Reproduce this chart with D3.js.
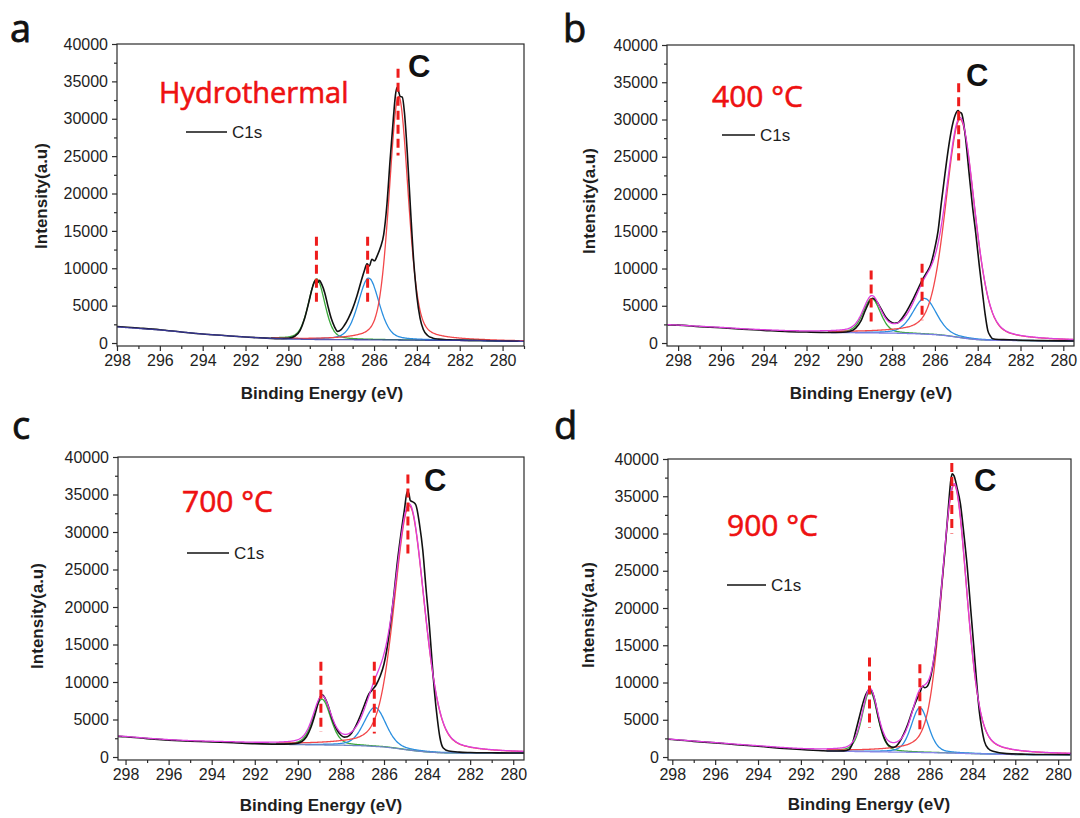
<!DOCTYPE html>
<html>
<head>
<meta charset="utf-8">
<script src="https://cdn.jsdelivr.net/npm/d3@7"></script>
<style>
  body { margin: 0; background: #fff; }
  svg text { font-family: "Liberation Sans", Arial, sans-serif; }
</style>
</head>
<body>
<svg id="chart" width="1080" height="818"></svg>
<script>
// ---------------- data ----------------
const xTickValues = [298, 296, 294, 292, 290, 288, 286, 284, 282, 280];
const xMinorValues = [299, 297, 295, 293, 291, 289, 287, 285, 283, 281, 279];
const yTickValues = [0, 5000, 10000, 15000, 20000, 25000, 30000, 35000, 40000];
const yMinorValues = [2500, 7500, 12500, 17500, 22500, 27500, 32500, 37500];
const panelLetters = ["a", "b", "c", "d"];
const sampleNames = ["Hydrothermal", "400 \u00B0C", "700 \u00B0C", "900 \u00B0C"];
const legendName = "C1s";
const peakLabel = "C";

// measured C1s spectra: [binding energy (eV), intensity (a.u.)]
const c1sHydro = [
  [298, 2200], [297, 2000], [296, 1780], [295, 1480], [294, 1200], [293, 1000], [292, 800],
  [291, 650], [290.4, 580], [290, 620], [289.7, 900], [289.45, 1700], [289.25, 3200],
  [289.05, 5400], [288.9, 7200], [288.78, 8200], [288.7, 8500], [288.62, 8100], [288.55, 8400],
  [288.45, 7900], [288.3, 6700], [288.15, 4900], [288, 3300], [287.85, 2200], [287.7, 1550],
  [287.55, 1750], [287.4, 2300], [287.2, 3300], [287, 4600], [286.8, 6300], [286.6, 8300],
  [286.45, 9700], [286.33, 10600], [286.22, 10300], [286.1, 11200], [285.98, 11000],
  [285.85, 11700], [285.7, 12800], [285.55, 14500], [285.4, 18500], [285.25, 24500],
  [285.1, 30000], [285, 33200], [284.92, 34200], [284.85, 33600], [284.78, 33000],
  [284.68, 32900], [284.58, 30800], [284.45, 25500], [284.3, 18000], [284.15, 11000],
  [284, 6200], [283.85, 3300], [283.7, 1800], [283.5, 1000], [283.25, 650], [283, 520],
  [282.5, 430], [282, 380], [281, 330], [280, 270], [279.2, 240]
];
const c1s400 = [
  [298.5, 2420], [298, 2400], [297, 2200], [296, 2050], [295, 1850], [294, 1700], [293, 1550],
  [292, 1470], [291, 1420], [290.3, 1450], [290, 1550], [289.7, 2000], [289.45, 3000],
  [289.25, 4400], [289.05, 5600], [288.92, 6000], [288.82, 5900], [288.7, 5500], [288.5, 4500],
  [288.3, 3500], [288.1, 2900], [287.9, 2650], [287.75, 2700], [287.6, 3100], [287.4, 3900],
  [287.2, 4900], [287, 6000], [286.8, 7200], [286.6, 8400], [286.4, 9400], [286.2, 10500],
  [286, 12800], [285.85, 15100], [285.7, 18800], [285.53, 22700], [285.35, 26500],
  [285.2, 29000], [285.05, 30600], [284.92, 31200], [284.85, 31000], [284.75, 30800],
  [284.6, 28300], [284.4, 22700], [284.25, 18500], [284.09, 14700], [283.93, 10500],
  [283.77, 6600], [283.65, 3800], [283.53, 1700], [283.4, 900], [283.3, 580], [283, 470],
  [282.8, 450], [282, 380], [281, 320], [280, 290], [279.45, 280]
];
const c1s700 = [
  [298.35, 2750], [298, 2700], [297, 2450], [296, 2250], [295, 2100], [294, 2000], [293, 1900],
  [292, 1780], [291, 1720], [290.3, 1750], [290, 1850], [289.8, 2100], [289.6, 2700],
  [289.4, 3900], [289.2, 5700], [289.05, 7300], [288.92, 8200], [288.85, 8250], [288.75, 7900],
  [288.6, 6900], [288.4, 5000], [288.2, 3700], [288, 2900], [287.85, 2650], [287.7, 2700],
  [287.5, 3200], [287.3, 4200], [287.1, 5500], [286.9, 7000], [286.7, 8400], [286.5, 9100],
  [286.35, 9700], [286.19, 10700], [286, 12400], [285.87, 14300], [285.7, 17800],
  [285.55, 21400], [285.4, 25500], [285.23, 29400], [285.05, 33000], [284.92, 35400],
  [284.85, 35200], [284.78, 34200], [284.65, 34000], [284.52, 33600], [284.35, 31000],
  [284.2, 27600], [284.05, 22500], [283.89, 17400], [283.77, 12800], [283.65, 8500],
  [283.52, 5000], [283.41, 2700], [283.25, 1200], [283, 800], [282.5, 650], [282, 600],
  [281, 560], [280, 530], [279.5, 530]
];
const c1s900 = [
  [298.2, 2380], [298, 2350], [297, 2100], [296, 1900], [295, 1650], [294, 1450], [293, 1200],
  [292, 1000], [291, 850], [290.3, 800], [290, 820], [289.76, 1000], [289.6, 1800],
  [289.44, 3500], [289.28, 5300], [289.12, 7100], [288.95, 8500], [288.8, 9100], [288.7, 8900],
  [288.55, 7600], [288.4, 5500], [288.2, 3300], [288, 1900], [287.85, 1450], [287.7, 1300],
  [287.55, 1450], [287.4, 2000], [287.2, 3100], [287, 4500], [286.8, 6200], [286.6, 7700],
  [286.45, 8600], [286.32, 9500], [286.22, 9300], [286.1, 9500], [285.92, 11100],
  [285.75, 14000], [285.6, 17900], [285.45, 22500], [285.28, 27800], [285.12, 33500],
  [285, 37300], [284.94, 38000], [284.85, 37700], [284.72, 36200], [284.56, 34000],
  [284.4, 30000], [284.24, 25500], [284.08, 19900], [283.92, 14300], [283.8, 10000],
  [283.68, 6200], [283.56, 3800], [283.44, 2100], [283.25, 1100], [283.04, 770],
  [282.4, 450], [281.5, 380], [280.5, 330], [279.45, 320]
];

// background anchor points: [binding energy (eV), intensity]
const bgHydro = [[298, 2150], [297, 1950], [296, 1750], [295, 1480], [294, 1200], [293, 1000],
  [292, 800], [291, 640], [290, 540], [289, 480], [288, 450], [287, 440], [286, 430],
  [285, 410], [284, 380], [283, 360], [282, 340], [281, 310], [280, 260], [279, 230]];
const bg400 = [[298.52, 2430], [298, 2370], [297, 2200], [296, 2050], [295, 1850], [294, 1700],
  [293, 1560], [292, 1470], [291, 1420], [290, 1390], [289, 1360], [288, 1330], [287, 1260],
  [286, 1130], [285.5, 1000], [285, 800], [284.5, 600], [284, 450], [283.5, 380], [283, 360],
  [282, 330], [281, 300], [280, 280], [279.5, 270]];
const bg700 = [[298.35, 2750], [298, 2700], [297, 2450], [296, 2250], [295, 2100], [294, 2000],
  [293, 1900], [292, 1780], [291, 1700], [290, 1650], [289, 1610], [288, 1580], [287, 1500],
  [286, 1340], [285.5, 1180], [285, 980], [284.5, 800], [284, 670], [283.5, 580], [283, 540],
  [282, 530], [281, 520], [280, 510], [279.5, 510]];
const bg900 = [[298.2, 2380], [298, 2340], [297, 2100], [296, 1890], [295, 1650], [294, 1440],
  [293, 1200], [292, 990], [291, 850], [290, 770], [289, 720], [288, 680], [287, 640],
  [286, 590], [285, 530], [284, 450], [283, 380], [282, 330], [281, 320], [280, 315],
  [279.4, 310]];

// fitted components (C-C/C=C, C-O, O-C=O): centre (eV), height above background, FWHM (eV)
const peakCentersHydro = [284.85, 286.25, 288.68];
const peakHeightsHydro = [32600, 8250, 8100];
const peakFwhmHydro = [1.05, 1.15, 0.9];
const peakCenters400 = [284.82, 286.48, 288.95];
const peakHeights400 = [29300, 4800, 4600];
const peakFwhm400 = [1.6, 1.3, 0.95];
const peakCenters700 = [284.82, 286.42, 288.88];
const peakHeights700 = [32600, 5200, 6100];
const peakFwhm700 = [1.65, 1.2, 0.95];
const peakCenters900 = [284.85, 286.45, 288.78];
const peakHeights900 = [36000, 6000, 8100];
const peakFwhm900 = [1.4, 0.95, 0.85];

// dashed peak markers: [energy, upper intensity, lower intensity]
const marksHydro = [[284.88, 36700, 25100], [286.3, 14200, 5300], [288.69, 14200, 5100]];
const marks400 = [[284.89, 34860, 24500], [286.6, 10640, 3040], [288.98, 9740, 2800]];
const marks700 = [[284.89, 37670, 26970], [286.45, 12700, 3120], [288.93, 12700, 3340]];
const marks900 = [[284.96, 39460, 30010], [286.45, 12460, 3240], [288.8, 13360, 3910]];

// ---------------- layout ----------------
const panels = [
  { measured: c1sHydro, bg: bgHydro, centers: peakCentersHydro, heights: peakHeightsHydro,
    fwhm: peakFwhmHydro, marks: marksHydro, fitStart: 290.8, envelope: false,
    box: { left: 117, right: 524, top: 44, bottom: 346 }, xDomain: [298, 279],
    letter: [10, 42], name: [159, 103, 29], peakC: [408, 77], legend: [186, 227, 132],
    xTitle: [322, 399], yTitle: [41, 196], bgColor: "#3b3ba6" },
  { measured: c1s400, bg: bg400, centers: peakCenters400, heights: peakHeights400,
    fwhm: peakFwhm400, marks: marks400, fitStart: 291, envelope: true,
    box: { left: 667, right: 1074, top: 45, bottom: 346 }, xDomain: [298.52, 279.5],
    letter: [563, 42], name: [712, 107, 30], peakC: [966, 86], legend: [722, 755, 135],
    xTitle: [871, 399], yTitle: [589, 201], bgColor: "#7c7ce4" },
  { measured: c1s700, bg: bg700, centers: peakCenters700, heights: peakHeights700,
    fwhm: peakFwhm700, marks: marks700, fitStart: 291, envelope: true,
    box: { left: 118, right: 524, top: 457, bottom: 760 }, xDomain: [298.35, 279.5],
    letter: [12, 439], name: [182, 512, 30], peakC: [424, 491], legend: [187, 229, 553],
    xTitle: [321, 811], yTitle: [37, 616], bgColor: "#6f86c4" },
  { measured: c1s900, bg: bg900, centers: peakCenters900, heights: peakHeights900,
    fwhm: peakFwhm900, marks: marks900, fitStart: 290.8, envelope: true,
    box: { left: 668, right: 1071, top: 459, bottom: 760 }, xDomain: [298.2, 279.4],
    letter: [554, 439], name: [727, 536, 30], peakC: [974, 491], legend: [727, 766, 585],
    xTitle: [869, 810], yTitle: [588, 615], bgColor: "#8787e6" }
];

const componentColors = ["#f2474a", "#2a8fe0", "#3aa83a"]; // C-C, C-O, O-C=O
const envelopeColor = "#dd3fdd";
const axisColor = "#2b2b2b";
const markColor = "#ee1c1c";
const textRed = "#ee1111";

// pseudo-Voigt line shape (Gaussian/Lorentzian mix)
const ETA = 0.3;
function pv(x, c, h, w) {
  const t = (x - c) / w;
  return h * ((1 - ETA) * Math.exp(-4 * Math.LN2 * t * t) + ETA / (1 + 4 * t * t));
}

const svg = d3.select("#chart");

panels.forEach((p, i) => {
  const b = p.box;
  const x = d3.scaleLinear().domain(p.xDomain).range([b.left, b.right]);
  const y = d3.scaleLinear().domain([-400, 40000]).range([b.bottom, b.top]);
  const g = svg.append("g");

  // background as piecewise-linear function through its anchors
  const bgScale = d3.scaleLinear().domain(p.bg.map(d => d[0])).range(p.bg.map(d => d[1]));

  const clipId = "clip" + i;
  svg.append("clipPath").attr("id", clipId).append("rect")
    .attr("x", b.left).attr("y", b.top).attr("width", b.right - b.left).attr("height", b.bottom - b.top);

  const plot = g.append("g").attr("clip-path", `url(#${clipId})`);
  const line = d3.line().x(d => x(d[0])).y(d => y(d[1])).curve(d3.curveMonotoneX);

  // energy grid for the fitted curves (descending energy -> increasing x)
  const fitGrid = d3.range(p.fitStart, p.xDomain[1] - 0.001, -0.04);
  const fullGrid = d3.range(p.xDomain[0], p.xDomain[1] - 0.001, -0.04);

  // components drawn on top of the background: O-C=O, C-O, then C-C
  [2, 1, 0].forEach(k => {
    const pts = fitGrid.map(e => [e, bgScale(e) + pv(e, p.centers[k], p.heights[k], p.fwhm[k])]);
    plot.append("path").attr("d", line(pts)).attr("fill", "none")
      .attr("stroke", componentColors[k]).attr("stroke-width", 1.3);
  });

  // background line
  if (p.envelope) {
    const bgPts = fitGrid.map(e => [e, bgScale(e)]);
    plot.append("path").attr("d", line(bgPts)).attr("fill", "none")
      .attr("stroke", p.bgColor).attr("stroke-width", 1.3);
  }

  // measured spectrum
  plot.append("path").attr("d", line(p.measured)).attr("fill", "none")
    .attr("stroke", "#111").attr("stroke-width", 1.6).attr("stroke-linejoin", "round");

  if (p.envelope) {
    const envPts = fullGrid.map(e => [e, bgScale(e) +
      d3.sum(p.centers, (c, k) => pv(e, c, p.heights[k], p.fwhm[k]))]);
    plot.append("path").attr("d", line(envPts)).attr("fill", "none")
      .attr("stroke", envelopeColor).attr("stroke-width", 1.3);
  } else {
    const bgPts = fullGrid.map(e => [e, bgScale(e)]);
    plot.append("path").attr("d", line(bgPts)).attr("fill", "none")
      .attr("stroke", p.bgColor).attr("stroke-width", 1.3).attr("opacity", 0.85);
  }

  // dashed peak markers
  g.selectAll(".mark").data(p.marks).join("line")
    .attr("x1", d => x(d[0])).attr("x2", d => x(d[0]))
    .attr("y1", d => y(d[1])).attr("y2", d => y(d[2]))
    .attr("stroke", markColor).attr("stroke-width", 3).attr("stroke-dasharray", "9,5");

  // frame
  g.append("rect").attr("x", b.left).attr("y", b.top)
    .attr("width", b.right - b.left).attr("height", b.bottom - b.top)
    .attr("fill", "none").attr("stroke", axisColor).attr("stroke-width", 1.2);

  // x axis
  const xAxis = d3.axisBottom(x).tickValues(xTickValues).tickSize(5).tickPadding(4)
    .tickFormat(d3.format("d"));
  const xa = g.append("g").attr("transform", `translate(0,${b.bottom})`).call(xAxis);
  const xMinor = d3.axisBottom(x).tickValues(xMinorValues.filter(v => v <= p.xDomain[0] && v >= p.xDomain[1]))
    .tickSize(3).tickFormat("");
  const xm = g.append("g").attr("transform", `translate(0,${b.bottom})`).call(xMinor);

  // y axis
  const yAxis = d3.axisLeft(y).tickValues(yTickValues).tickSize(5).tickPadding(4)
    .tickFormat(d3.format("d"));
  const ya = g.append("g").attr("transform", `translate(${b.left},0)`).call(yAxis);
  const yMinor = d3.axisLeft(y).tickValues(yMinorValues).tickSize(3).tickFormat("");
  const ym = g.append("g").attr("transform", `translate(${b.left},0)`).call(yMinor);

  [xa, xm, ya, ym].forEach(a => {
    a.select(".domain").remove();
    a.selectAll("line").attr("stroke", axisColor).attr("stroke-width", 1.2);
    a.selectAll("text").attr("fill", "#1e1e1e").style("font-size", "16px")
      .style("font-family", "'Liberation Sans', Arial, sans-serif");
  });

  // axis titles
  g.append("text").attr("x", p.xTitle[0]).attr("y", p.xTitle[1]).attr("text-anchor", "middle")
    .style("font-size", "17px").style("font-weight", "bold").attr("fill", "#1e1e1e")
    .text("Binding Energy (eV)");
  g.append("text").attr("transform", `translate(${p.yTitle[0]},${p.yTitle[1]}) rotate(-90)`)
    .attr("text-anchor", "middle").attr("dominant-baseline", "central")
    .style("font-size", "17px").style("font-weight", "bold").attr("fill", "#1e1e1e")
    .text("Intensity(a.u)");

  // panel letter
  g.append("text").attr("x", p.letter[0]).attr("y", p.letter[1])
    .style("font-family", "'Open Sans', 'Noto Sans', sans-serif").style("font-size", "38px")
    .attr("fill", "#111").attr("stroke", "#111").attr("stroke-width", 0.8)
    .text(panelLetters[i]);

  // sample name
  g.append("text").attr("x", p.name[0]).attr("y", p.name[1])
    .style("font-family", "'Open Sans', 'Noto Sans', sans-serif").style("font-size", p.name[2] + "px")
    .attr("fill", textRed).attr("stroke", textRed).attr("stroke-width", 0.6)
    .text(sampleNames[i]);

  // "C" label near the main peak
  g.append("text").attr("x", p.peakC[0]).attr("y", p.peakC[1])
    .style("font-size", "31px").style("font-weight", "bold").attr("fill", "#111").text(peakLabel);

  // legend
  g.append("line").attr("x1", p.legend[0]).attr("x2", p.legend[1])
    .attr("y1", p.legend[2]).attr("y2", p.legend[2]).attr("stroke", "#111").attr("stroke-width", 1.6);
  g.append("text").attr("x", p.legend[1] + 5).attr("y", p.legend[2] + 6)
    .style("font-size", "17px").attr("fill", "#1e1e1e").text(legendName);
});
</script>
</body>
</html>
